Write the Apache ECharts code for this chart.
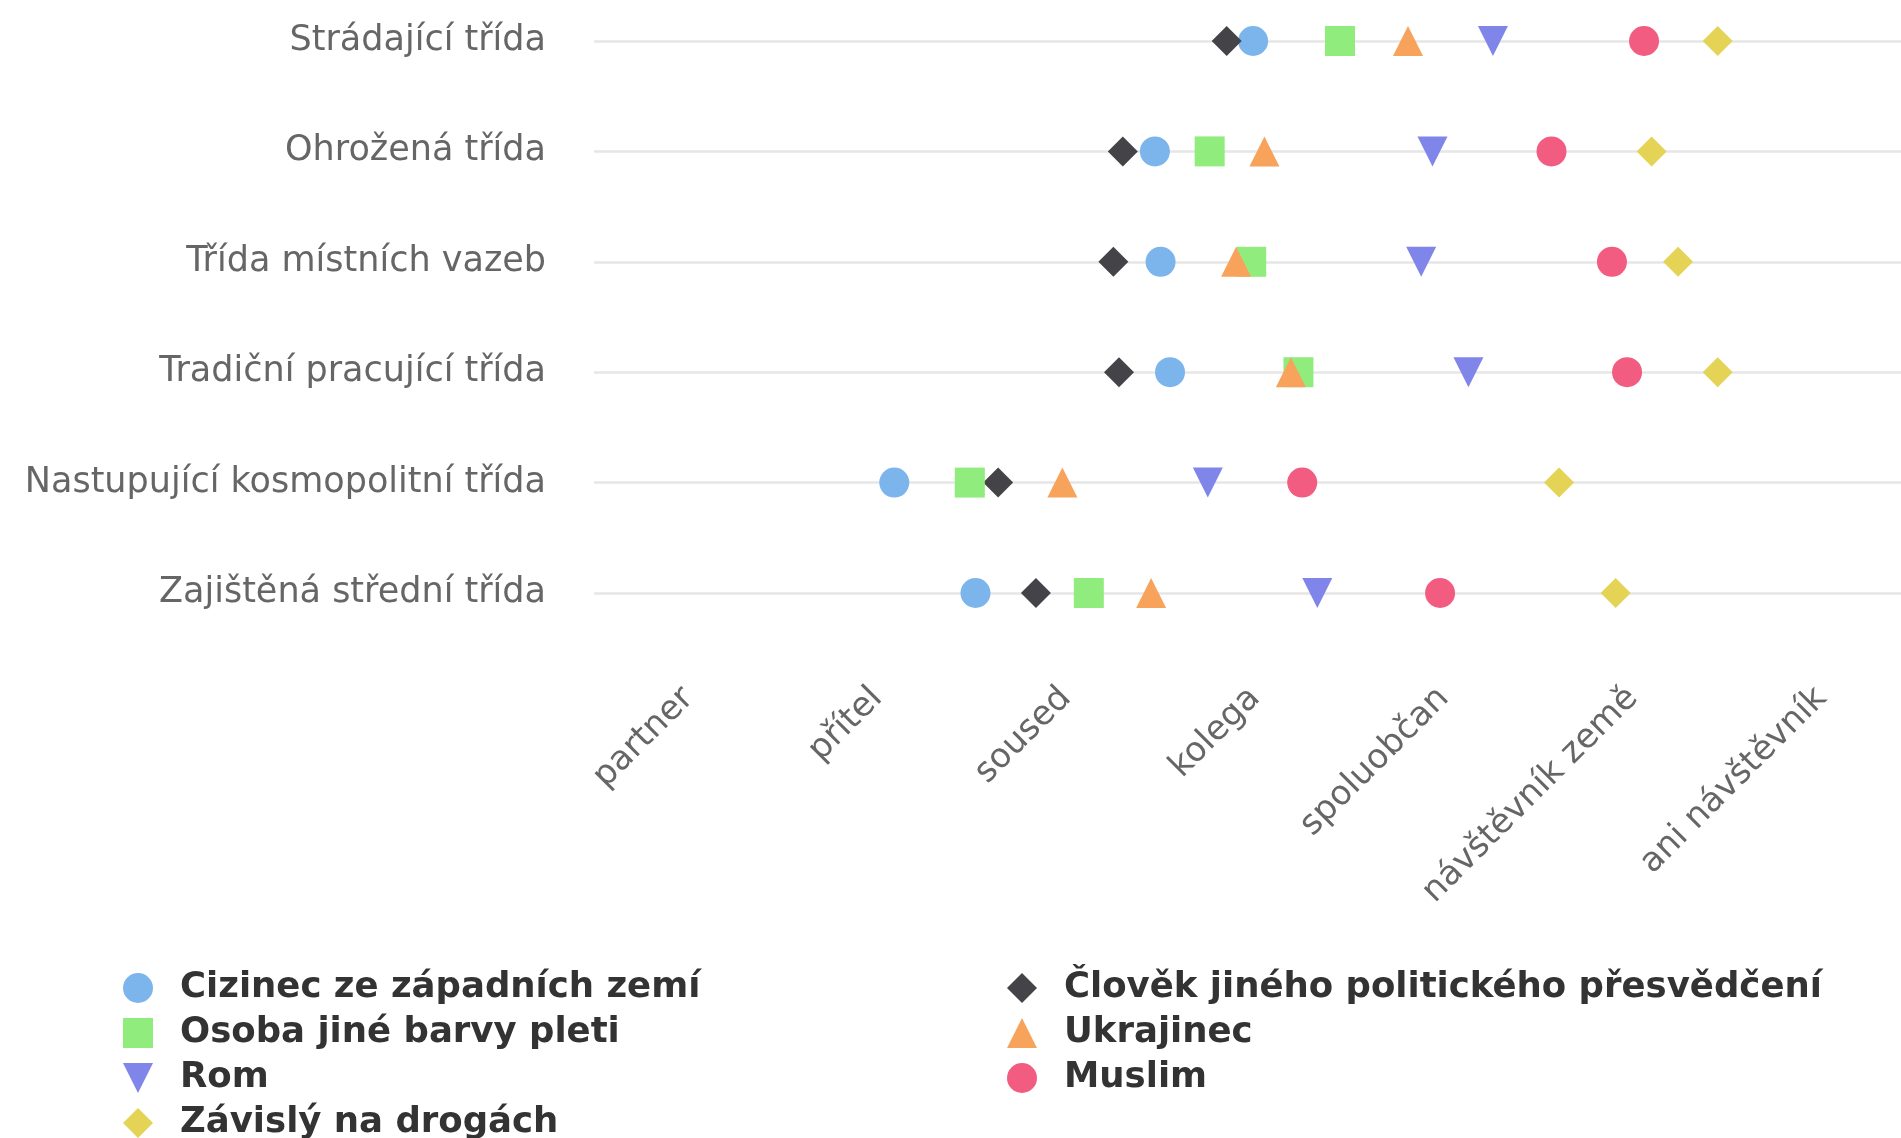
<!DOCTYPE html>
<html>
<head>
<meta charset="utf-8">
<script src="https://cdn.jsdelivr.net/npm/echarts@6/dist/echarts.min.js"></script>
<style>
  html, body { margin: 0; padding: 0; background: #fff; overflow: hidden; }
  /* graf je vpravo oříznutý, proto je plátno širší než okno */
  #main { width: 1920px; height: 1138px; }
</style>
</head>
<body>
<div id="main"></div>
<script>
// sociální vzdálenost podle tříd (1 = partner ... 7 = ani návštěvník)
var classes = ['Strádající třída', 'Ohrožená třída', 'Třída místních vazeb',
  'Tradiční pracující třída', 'Nastupující kosmopolitní třída', 'Zajištěná střední třída'];
var distances = ['partner', 'přítel', 'soused', 'kolega', 'spoluobčan', 'návštěvník země', 'ani návštěvník'];

var cizinec   = [3.99, 3.47, 3.50, 3.55, 2.09, 2.52];
var clovek    = [3.85, 3.30, 3.25, 3.28, 2.64, 2.84];
var osoba     = [4.45, 3.76, 3.98, 4.23, 2.49, 3.12];
var ukrajinec = [4.81, 4.05, 3.90, 4.19, 2.98, 3.45];
var rom       = [5.26, 4.94, 4.88, 5.13, 3.75, 4.33];
var muslim    = [6.06, 5.57, 5.89, 5.97, 4.25, 4.98];
var zavisly   = [6.45, 6.10, 6.24, 6.45, 5.61, 5.91];

var FONT = 'DejaVu Sans';
var triangleDown = 'path://M0,0 L10,0 L5,10 Z';

function mk(name, vals, symbol, color) {
    return {
        name: name,
        type: 'scatter',
        xAxisIndex: 1,
        yAxisIndex: 0,
        symbol: symbol,
        symbolSize: 30,
        itemStyle: { color: color, opacity: 1 },
        data: vals.map(function (v, i) { return [v, i]; })
    };
}

var legendText = { fontSize: 35.5, fontWeight: 'bold', color: '#333', fontFamily: FONT, padding: [0, 0, 0, 22] };

var myChart = echarts.init(document.getElementById('main'));
var option = {
    backgroundColor: '#fff',
    animation: false,
    textStyle: { fontFamily: FONT },
    grid: { left: 594, top: 41, height: 552, width: 1322 },
    legend: [{
        data: ['Cizinec ze západních zemí', 'Osoba jiné barvy pleti', 'Rom', 'Závislý na drogách'],
        orient: 'vertical',
        left: 123,
        top: 970,
        height: 230,
        padding: 0,
        itemWidth: 30,
        itemHeight: 30,
        itemGap: 9,
        textStyle: legendText
    }, {
        data: ['Člověk jiného politického přesvědčení', 'Ukrajinec', 'Muslim'],
        orient: 'vertical',
        left: 1007,
        top: 970,
        height: 230,
        padding: 0,
        itemWidth: 30,
        itemHeight: 30,
        itemGap: 9,
        textStyle: legendText
    }],
    xAxis: [{
        type: 'category',
        data: distances,
        boundaryGap: true,
        axisLine: { show: false },
        axisTick: { show: false },
        splitLine: { show: false },
        axisLabel: {
            interval: 0,
            rotate: 45,
            margin: 100,
            fontSize: 34,
            color: '#666',
            fontFamily: FONT
        }
    }, {
        type: 'value',
        min: 0.5,
        max: 7.5,
        show: false
    }],
    yAxis: [{
        type: 'category',
        data: classes,
        inverse: true,
        boundaryGap: false,
        axisLine: { show: false },
        axisTick: { show: false },
        splitLine: { show: true, lineStyle: { color: '#e6e6e6', width: 2.5 } },
        axisLabel: { margin: 48, fontSize: 35, color: '#666', fontFamily: FONT, padding: [12, 0, 0, 0] }
    }],
    series: [
        mk('Cizinec ze západních zemí', cizinec, 'circle', '#7cb5ec'),
        mk('Člověk jiného politického přesvědčení', clovek, 'diamond', '#434348'),
        mk('Osoba jiné barvy pleti', osoba, 'rect', '#90ed7d'),
        mk('Ukrajinec', ukrajinec, 'triangle', '#f7a35c'),
        mk('Rom', rom, triangleDown, '#8085e9'),
        mk('Muslim', muslim, 'circle', '#f15c80'),
        mk('Závislý na drogách', zavisly, 'diamond', '#e4d354')
    ]
};
myChart.setOption(option);
</script>
</body>
</html>
